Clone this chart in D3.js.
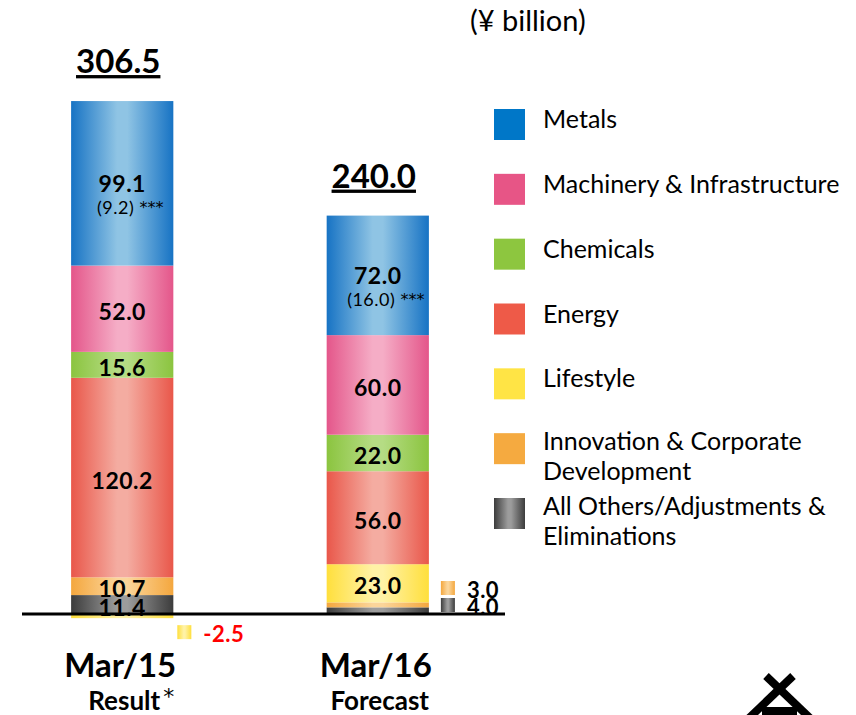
<!DOCTYPE html>
<html>
<head>
<meta charset="utf-8">
<script src="https://cdn.jsdelivr.net/npm/d3@7"></script>
<style>
  body { margin: 0; background: #fff; }
  svg { display: block; font-family: Lato, "Open Sans", sans-serif; }
  .seg-label { font-weight: bold; font-size: 23px; letter-spacing: 0.5px; fill: #000; }
  .out-label { font-weight: bold; font-size: 22px; letter-spacing: 0.5px; }
  .sub-label { font-size: 18px; letter-spacing: 0.5px; fill: #000; }
  .sub-label .stars { font-family: "DejaVu Sans", sans-serif; font-size: 16px; letter-spacing: 0; }
  .total { font-weight: bold; font-size: 33px; text-decoration: underline; }
  .legend text { font-size: 25px; fill: #000; }
  .cat { font-weight: bold; font-size: 33px; }
  .cat-sub { font-weight: bold; font-size: 26px; }
  .mark { font-family: "DejaVu Sans", sans-serif; font-size: 22px; }
</style>
</head>
<body>
<div id="chart"></div>
<script>
  // periods on the x axis
  const categories = ['Mar/15', 'Mar/16'];
  const categoryNotes = ['Result', 'Forecast'];
  const categoryMarks = ['*', ''];

  // segments, from the bottom of the stack upwards
  const segments = ['All Others/Adjustments & Eliminations', 'Innovation & Corporate Development',
    'Lifestyle', 'Energy', 'Chemicals', 'Machinery & Infrastructure', 'Metals'];

  const othersValues = [11.4, 4.0];
  const innovationValues = [10.7, 3.0];
  const lifestyleValues = [-2.5, 23.0];
  const energyValues = [120.2, 56.0];
  const chemicalsValues = [15.6, 22.0];
  const machineryValues = [52.0, 60.0];
  const metalsValues = [99.1, 72.0];

  const totals = [306.5, 240.0];
  const metalsNotes = ['(9.2)', '(16.0)'];
  const metalsNoteMark = '***';

  // legend, top to bottom
  const legendItems = ['Metals', 'Machinery & Infrastructure', 'Chemicals', 'Energy', 'Lifestyle',
    'Innovation & Corporate Development', 'All Others/Adjustments & Eliminations'];
  const legendLines = [['Metals'], ['Machinery & Infrastructure'], ['Chemicals'], ['Energy'], ['Lifestyle'],
    ['Innovation & Corporate', 'Development'], ['All Others/Adjustments &', 'Eliminations']];

  const unitLabel = '(¥ billion)';

  // colours: [edge, centre]
  const palette = {
    'Metals': ['#1773c4', '#8fc4e4'],
    'Machinery & Infrastructure': ['#e4568a', '#f5adc6'],
    'Chemicals': ['#8bc43f', '#b5dc84'],
    'Energy': ['#e9574a', '#f4aca1'],
    'Lifestyle': ['#ffdf3c', '#fff2a6'],
    'Innovation & Corporate Development': ['#f4a73e', '#fbd59a'],
    'All Others/Adjustments & Eliminations': ['#3c3c3c', '#9c9c9c']
  };
  const legendFlat = {
    'Metals': '#0077c8',
    'Machinery & Infrastructure': '#e75586',
    'Chemicals': '#8dc63f',
    'Energy': '#ee5a48',
    'Lifestyle': '#ffe445',
    'Innovation & Corporate Development': '#f5aa40'
  };

  const seriesValues = {
    'All Others/Adjustments & Eliminations': othersValues,
    'Innovation & Corporate Development': innovationValues,
    'Lifestyle': lifestyleValues,
    'Energy': energyValues,
    'Chemicals': chemicalsValues,
    'Machinery & Infrastructure': machineryValues,
    'Metals': metalsValues
  };

  const table = categories.map(function(c, i) {
    let row = {cat: c};
    segments.forEach(function(s) { row[s] = seriesValues[s][i]; });
    return row;
  });

  const width = 856;
  const height = 715;

  let svg = d3.select('#chart').append('svg')
    .attr('width', width)
    .attr('height', height);

  let defs = svg.append('defs');
  segments.forEach(function(s, i) {
    let g = defs.append('linearGradient')
      .attr('id', 'grad' + i)
      .attr('x1', 0).attr('x2', 1).attr('y1', 0).attr('y2', 0);
    g.append('stop').attr('offset', '0%').attr('stop-color', palette[s][0]);
    g.append('stop').attr('offset', '45%').attr('stop-color', palette[s][1]);
    g.append('stop').attr('offset', '55%').attr('stop-color', palette[s][1]);
    g.append('stop').attr('offset', '100%').attr('stop-color', palette[s][0]);
  });
  function gradOf(s) { return 'url(#grad' + segments.indexOf(s) + ')'; }

  let x = d3.scaleBand()
    .domain(categories)
    .range([20, 480])
    .paddingInner(0.6)
    .paddingOuter(0.2);

  let y = d3.scaleLinear()
    .domain([0, 300])
    .range([614, 116]);

  let stack = d3.stack()
    .keys(segments)
    .offset(d3.stackOffsetDiverging);
  let stacked = stack(table);

  let bars = svg.append('g').attr('class', 'bars');
  stacked.forEach(function(layer) {
    bars.selectAll(null)
      .data(layer)
      .enter().append('rect')
      .attr('x', function(d) { return x(d.data.cat); })
      .attr('width', x.bandwidth())
      .attr('y', function(d) { return y(Math.max(d[0], d[1])); })
      .attr('height', function(d) { return Math.abs(y(d[0]) - y(d[1])); })
      .attr('fill', gradOf(layer.key));
  });

  // axis line
  svg.append('line')
    .attr('x1', 22).attr('x2', 505)
    .attr('y1', y(0)).attr('y2', y(0))
    .attr('stroke', '#000')
    .attr('stroke-width', 3);

  // labels inside segments, small ones outside
  let labels = svg.append('g');
  categories.forEach(function(c, ci) {
    let outsideRow = 0;
    let cx = x(c) + x.bandwidth() / 2;
    stacked.forEach(function(layer) {
      let d = layer[ci];
      let v = d.data[layer.key];
      if (Math.abs(v) >= 8) {
        let cy = (y(d[0]) + y(d[1])) / 2 + 2;
        if (layer.key === 'Metals') {
          cy = cy - 2;
          let sub = labels.append('text')
            .attr('class', 'sub-label')
            .attr('x', cx + 8).attr('y', cy + 24)
            .attr('text-anchor', 'middle')
            .attr('dominant-baseline', 'central');
          sub.append('tspan').text(metalsNotes[ci] + ' ');
          sub.append('tspan').attr('class', 'stars').text(metalsNoteMark);
        }
        labels.append('text')
          .attr('class', 'seg-label')
          .attr('x', cx).attr('y', cy)
          .attr('text-anchor', 'middle')
          .attr('dominant-baseline', 'central')
          .text(v.toFixed(1));
      } else {
        let bx = x(c) + x.bandwidth() + (v < 0 ? 4 : 12);
        let cy = v < 0 ? y(v) + 14 : y(0) - 9 - 17 * outsideRow;
        if (v >= 0) outsideRow++;
        labels.append('rect')
          .attr('x', bx).attr('y', cy - 7)
          .attr('width', 14).attr('height', 14)
          .attr('fill', gradOf(layer.key));
        labels.append('text')
          .attr('class', 'out-label')
          .attr('x', bx + 26).attr('y', cy + 1)
          .attr('dominant-baseline', 'central')
          .style('fill', v < 0 ? '#ff0000' : '#000')
          .text(v.toFixed(1));
      }
    });

    // total on top
    let top = d3.max(stacked, function(layer) { return layer[ci][1]; });
    svg.append('text')
      .attr('class', 'total')
      .attr('x', cx - 4)
      .attr('y', y(top) - 28)
      .attr('text-anchor', 'middle')
      .text(totals[ci].toFixed(1));

    // category labels
    svg.append('text')
      .attr('class', 'cat')
      .attr('x', cx - 2)
      .attr('y', 677)
      .attr('text-anchor', 'middle')
      .text(c);
    svg.append('text')
      .attr('class', 'cat-sub')
      .attr('x', cx + 2)
      .attr('y', 710)
      .attr('text-anchor', 'middle')
      .text(categoryNotes[ci]);
    if (categoryMarks[ci]) {
      svg.append('text')
        .attr('class', 'mark')
        .attr('x', cx + 41)
        .attr('y', 704)
        .text(categoryMarks[ci]);
    }
  });

  // unit
  svg.append('text')
    .attr('x', 470).attr('y', 31)
    .attr('font-size', 29)
    .text(unitLabel);

  // legend
  let legendY = d3.scalePoint()
    .domain(legendItems)
    .range([125, 514]);

  let legend = svg.append('g').attr('class', 'legend');
  legendItems.forEach(function(item, i) {
    let cy = legendY(item);
    legend.append('rect')
      .attr('x', 494).attr('y', cy - 16)
      .attr('width', 31).attr('height', 31)
      .attr('fill', legendFlat[item] || gradOf(item));
    let lines = legendLines[i];
    let t = legend.append('text')
      .attr('x', 543).attr('y', lines.length > 1 ? cy + 1 : cy + 3);
    lines.forEach(function(line, li) {
      t.append('tspan')
        .attr('x', 543)
        .attr('dy', li === 0 ? 0 : 30)
        .text(line);
    });
  });

  // corner logo
  let logo = svg.append('g')
    .attr('stroke', '#000')
    .attr('stroke-width', 8)
    .attr('fill', 'none');
  logo.append('path').attr('d', 'M766,676 L812,720');
  logo.append('path').attr('d', 'M793,676 L747,720');
  logo.append('path').attr('d', 'M762,711 L797,711');
</script>
</body>
</html>
